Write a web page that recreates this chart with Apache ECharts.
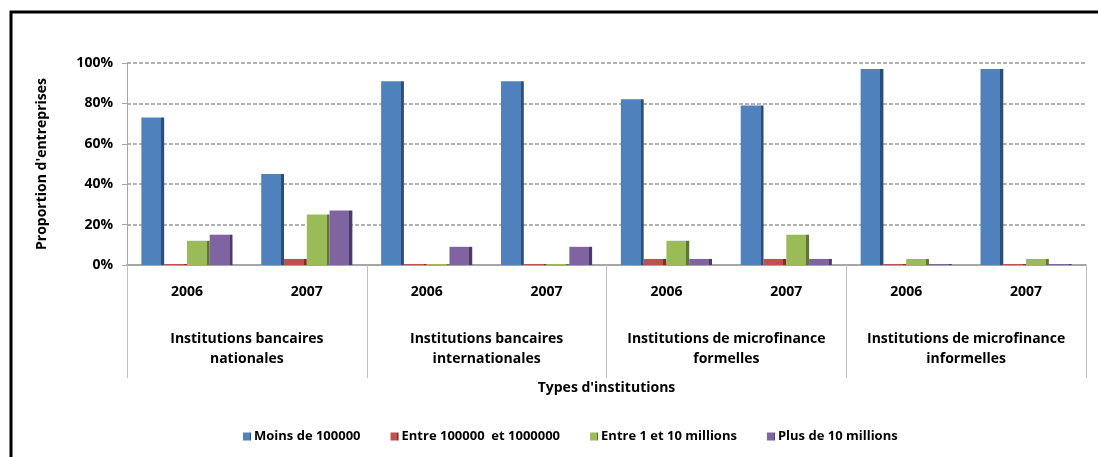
<!DOCTYPE html>
<html>
<head>
<meta charset="utf-8">
<script src="https://cdn.jsdelivr.net/npm/echarts@6/dist/echarts.min.js"></script>
<style>
  html, body { margin: 0; padding: 0; background: #fff; }
  #chart { width: 1098px; height: 457px; }
</style>
</head>
<body>
<div id="chart"></div>
<script>
// Years shown under each cluster, and the institution groups below them
const years = ['2006', '2007', '2006', '2007', '2006', '2007', '2006', '2007'];
const groups = [
  'Institutions bancaires\nnationales',
  'Institutions bancaires\ninternationales',
  'Institutions de microfinance\nformelles',
  'Institutions de microfinance\ninformelles'
];
const yTicks = [0, 20, 40, 60, 80, 100];

// Share of firms (%) by loan size band
const moins100k   = [73, 45, 91, 91, 82, 79, 97, 97];
const entre100k1M = [0, 3, 0, 0, 3, 3, 0, 0];
const entre1_10M  = [12, 25, 0, 0, 12, 15, 3, 3];
const plus10M     = [15, 27, 9, 9, 3, 3, 0, 0];

const seriesNames = ['Moins de 100000', 'Entre 100000  et 1000000', 'Entre 1 et 10 millions', 'Plus de 10 millions'];
const seriesData = [moins100k, entre100k1M, entre1_10M, plus10M];
const faceColors = ['#4F81BD', '#C0504D', '#9BBB59', '#8064A2'];
const sideColors = ['#2D4E78', '#7D2F2C', '#5F7733', '#4E3A66'];

const chart = echarts.init(document.getElementById('chart'));
const FONT = '"Open Sans", "Liberation Sans", sans-serif';

// Face with a darker right edge, giving the columns a little depth
function shaded(i) {
  return new echarts.graphic.LinearGradient(0, 0, 1, 0, [
    { offset: 0, color: faceColors[i] },
    { offset: 0.87, color: faceColors[i] },
    { offset: 0.87, color: sideColors[i] },
    { offset: 1, color: sideColors[i] }
  ]);
}

const series = seriesNames.map((name, i) => ({
  name: name,
  type: 'bar',
  xAxisIndex: 0,
  yAxisIndex: 0,
  data: seriesData[i],
  barGap: '0%',
  barCategoryGap: '24%',
  barMinHeight: 1,
  itemStyle: { color: shaded(i) }
}));

chart.setOption({
  animation: false,
  backgroundColor: '#fff',
  textStyle: { fontFamily: FONT },
  color: faceColors,
  graphic: [{
    type: 'rect',
    shape: { x: 11, y: 12, width: 1200, height: 600 },
    style: { fill: 'none', stroke: '#000', lineWidth: 3 },
    silent: true,
    z: 100
  }],
  grid: { left: 127, right: 12, top: 63, bottom: 192, containLabel: false },
  legend: {
    bottom: 9,
    left: 238,
    itemWidth: 8,
    itemHeight: 8,
    itemGap: 30,
    icon: 'rect',
    textStyle: { fontFamily: FONT, fontWeight: 'bold', fontSize: 13, color: '#000', padding: [0, 0, 0, -2] },
    data: seriesNames
  },
  xAxis: [{
    type: 'category',
    data: years,
    position: 'bottom',
    axisLine: { show: true, lineStyle: { color: '#a6a6a6', width: 2 } },
    axisTick: { show: false },
    axisLabel: { interval: 0, margin: 20, fontFamily: FONT, fontWeight: 'bold', fontSize: 14, color: '#000' }
  }, {
    type: 'category',
    data: groups,
    position: 'bottom',
    axisLine: { show: false },
    axisTick: { show: true, interval: 0, length: 113, lineStyle: { color: '#bfbfbf', width: 1 } },
    axisLabel: { interval: 0, margin: 64, lineHeight: 20, fontFamily: FONT, fontWeight: 'bold', fontSize: 14, color: '#000' },
    name: "Types d'institutions",
    nameLocation: 'middle',
    nameGap: 116,
    nameTextStyle: { fontFamily: FONT, fontWeight: 'bold', fontSize: 14, color: '#000' }
  }],
  yAxis: {
    type: 'value',
    min: yTicks[0],
    max: yTicks[yTicks.length - 1],
    interval: 20,
    name: "Proportion d'entreprises",
    nameLocation: 'middle',
    nameGap: 78,
    nameTextStyle: { fontFamily: FONT, fontWeight: 'bold', fontSize: 14, color: '#000' },
    axisLine: { show: true, lineStyle: { color: '#a6a6a6', width: 1 } },
    axisTick: { show: true, length: 5, lineStyle: { color: '#a6a6a6' } },
    axisLabel: { formatter: '{value}%', margin: 14, fontFamily: FONT, fontWeight: 'bold', fontSize: 14, color: '#000' },
    splitLine: { show: true, lineStyle: { color: '#9a9a9a', type: [4, 2], width: 1.5 } }
  },
  series: series
});
</script>
</body>
</html>
